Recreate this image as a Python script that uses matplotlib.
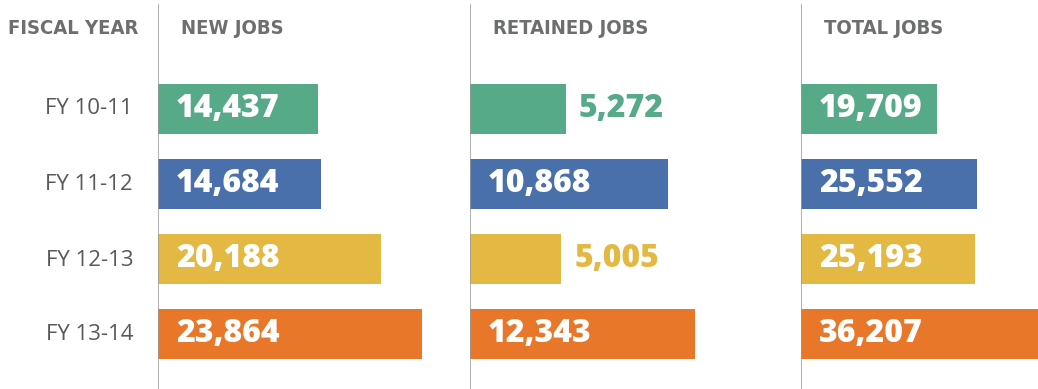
import matplotlib.pyplot as plt

years = ['FY 10-11', 'FY 11-12', 'FY 12-13', 'FY 13-14']
new_jobs = [14437, 14684, 20188, 23864]
retained_jobs = [5272, 10868, 5005, 12343]
total_jobs = [19709, 25552, 25193, 36207]
titles = ['NEW JOBS', 'RETAINED JOBS', 'TOTAL JOBS']
colors = ['#56aa88', '#4a70ac', '#e4b943', '#e8772a']

W, H = 1038, 389
num_font = ['Open Sans', 'DejaVu Sans']

fig = plt.figure(figsize=(W / 100, H / 100), dpi=100)

# panel left edge (px), width (px), x-limit (scale differs per panel)
panels = [
    (158, 312, 28184, new_jobs),
    (470, 331, 18187, retained_jobs),
    (801, 237, 34350, total_jobs),
]


def header(x, s, ha='left'):
    fig.text(x / W, 1 - 29 / H, s, fontsize=14.5, fontweight='bold',
             fontstretch='condensed', color='#6d6e70', family='DejaVu Sans',
             va='center', ha=ha)


for (left, width, xmax, vals), title in zip(panels, titles):
    ax = fig.add_axes([left / W, 0, width / W, 1])
    ax.barh(range(len(vals)), vals, height=0.664, color=colors)
    ax.set_xlim(0, xmax)
    ax.set_ylim(3.725, -1.441)
    ax.axis('off')
    ax.axvline(0, ymin=0, ymax=(H - 5) / H, color='#9a9a9a', lw=1.1)
    px = xmax / width  # data units per pixel
    for i, v in enumerate(vals):
        lab = f'{v:,}'
        if v / px > 120:
            ax.text(18 * px, i, lab, color='white', fontsize=23, fontweight='heavy',
                    family=num_font, va='center', ha='left')
        else:
            ax.text(v + 13 * px, i, lab, color=colors[i], fontsize=23, fontweight='heavy',
                    family=num_font, va='center', ha='left')
    header(left + 23, title)

header(73, 'FISCAL YEAR', ha='center')

row_y = [108.5, 185, 260, 334]
for yr, y in zip(years, row_y):
    fig.text(133 / W, 1 - y / H, yr, fontsize=16, color='#58595b',
             family=num_font, va='center', ha='right')

fig.savefig('out.png', dpi=100)
